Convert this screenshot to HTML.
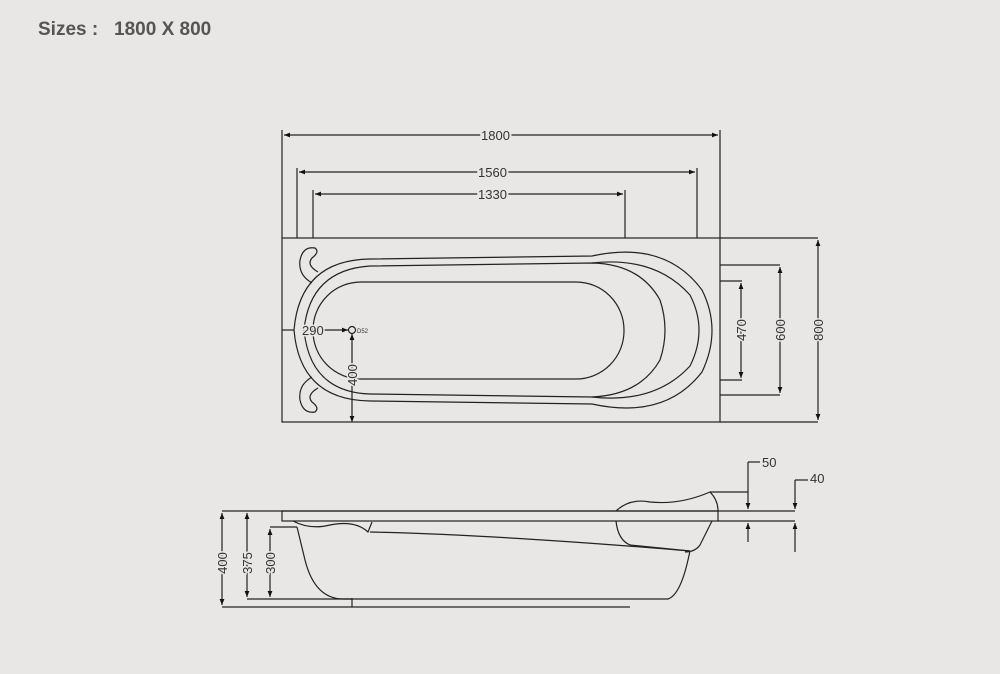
<!DOCTYPE html><html><head><style>html,body{margin:0;padding:0;background:#e8e7e5}</style></head><body>
<svg width="1000" height="669" viewBox="0 0 1000 669" xmlns="http://www.w3.org/2000/svg" font-family="Liberation Sans, sans-serif">
<defs><marker id="a" viewBox="0 0 10 10" refX="10" refY="5" markerWidth="12" markerHeight="6" markerUnits="userSpaceOnUse" orient="auto-start-reverse"><path d="M0,1 L10,5 L0,9z" fill="#111"/></marker></defs>
<rect width="1000" height="669" fill="#e8e7e5"/>
<text x="38" y="35" font-size="19" font-weight="bold" fill="#555" xml:space="preserve">Sizes :   1800 X 800</text>
<g stroke="#222" stroke-width="1.2" fill="none">
<line x1="282" y1="130" x2="282" y2="238"/><line x1="720" y1="130" x2="720" y2="238"/>
<line x1="284" y1="135" x2="718" y2="135" marker-start="url(#a)" marker-end="url(#a)"/>
<line x1="297" y1="168" x2="297" y2="238"/><line x1="697" y1="168" x2="697" y2="238"/>
<line x1="299" y1="172" x2="695" y2="172" marker-start="url(#a)" marker-end="url(#a)"/>
<line x1="313" y1="190" x2="313" y2="238"/><line x1="625" y1="190" x2="625" y2="238"/>
<line x1="315" y1="194" x2="623" y2="194" marker-start="url(#a)" marker-end="url(#a)"/>
<rect x="282" y="238" width="438" height="184"/>
<line x1="720" y1="238" x2="818" y2="238"/><line x1="720" y1="422" x2="818" y2="422"/>
<line x1="720" y1="265" x2="780" y2="265"/><line x1="720" y1="395" x2="780" y2="395"/>
<line x1="720" y1="281" x2="742" y2="281"/><line x1="720" y1="380" x2="742" y2="380"/>
<line x1="818" y1="240" x2="818" y2="420" marker-start="url(#a)" marker-end="url(#a)"/>
<line x1="780" y1="267" x2="780" y2="393" marker-start="url(#a)" marker-end="url(#a)"/>
<line x1="741" y1="283" x2="741" y2="378" marker-start="url(#a)" marker-end="url(#a)"/>
<rect x="313" y="282" width="311" height="97" rx="48"/>
<path d="M370,259 L592,256 Q665,240 702,290 Q722,330 702,372 Q665,420 592,404 L370,401"/>
<path d="M370,266 L592,263 Q640,264 660,300 Q670,330 660,360 Q640,395 592,397 L370,394"/>
<path d="M592,263 Q655,256 690,295 Q708,330 690,366 Q655,404 592,397"/>
<path d="M370,259 Q300,260 294,330 Q300,400 370,401"/>
<path d="M370,266 Q310,270 304,330 Q310,392 370,394"/>
<path d="M312,283 Q298,275 300,260 Q303,246 315,248 Q320,252 312,258 Q306,265 318,272"/>
<path d="M312,377 Q298,385 300,400 Q303,414 315,412 Q320,408 312,402 Q306,395 318,388"/>
<circle cx="352" cy="330" r="3.5"/>
<line x1="322" y1="330" x2="348" y2="330" marker-end="url(#a)"/>
<line x1="352" y1="334" x2="352" y2="422" marker-start="url(#a)" marker-end="url(#a)"/>
<line x1="282" y1="330" x2="294" y2="330"/>
<line x1="222" y1="511" x2="795" y2="511"/>
<rect x="282" y="511" width="436" height="10"/>
<line x1="718" y1="521" x2="795" y2="521"/>
<line x1="222" y1="607" x2="630" y2="607"/>
<line x1="352" y1="598" x2="352" y2="607"/>
<line x1="247" y1="599" x2="352" y2="599"/>
<line x1="270" y1="527" x2="297" y2="527"/>
<line x1="222" y1="513" x2="222" y2="605" marker-start="url(#a)" marker-end="url(#a)"/>
<line x1="247" y1="513" x2="247" y2="597" marker-start="url(#a)" marker-end="url(#a)"/>
<line x1="270" y1="529" x2="270" y2="597" marker-start="url(#a)" marker-end="url(#a)"/>
<path d="M293,521 Q310,530 330,525 Q355,520 368,532 L372,522"/>
<path d="M297,527 L305,560 Q315,600 345,599 L668,599 Q680,595 688,560 L690,551"/>
<path d="M370,532 Q500,535 690,551"/>
<path d="M616,511 Q630,498 650,502 Q680,505 710,492 Q718,500 718,511"/>
<path d="M712,521 L700,545 Q695,552 685,552 M616,521 Q618,540 630,545 L690,551"/>
<line x1="710" y1="492" x2="748" y2="492"/>
<line x1="748" y1="462" x2="748" y2="509" marker-end="url(#a)"/>
<line x1="748" y1="462" x2="760" y2="462"/>
<line x1="748" y1="542" x2="748" y2="523" marker-end="url(#a)"/>
<line x1="795" y1="480" x2="795" y2="509" marker-end="url(#a)"/>
<line x1="795" y1="480" x2="808" y2="480"/>
<line x1="795" y1="552" x2="795" y2="523" marker-end="url(#a)"/>
</g>
<g fill="#333" font-size="13">
<text x="481" y="140" stroke="#e8e7e5" stroke-width="4" paint-order="stroke">1800</text>
<text x="478" y="177" stroke="#e8e7e5" stroke-width="4" paint-order="stroke">1560</text>
<text x="478" y="199" stroke="#e8e7e5" stroke-width="4" paint-order="stroke">1330</text>
<text x="302" y="335" stroke="#e8e7e5" stroke-width="3" paint-order="stroke">290</text>
<text x="357" y="333" font-size="6">D52</text>
<text transform="translate(357,375) rotate(-90)" text-anchor="middle" stroke="#e8e7e5" stroke-width="3" paint-order="stroke">400</text>
<text transform="translate(746,330) rotate(-90)" text-anchor="middle" stroke="#e8e7e5" stroke-width="3" paint-order="stroke">470</text>
<text transform="translate(785,330) rotate(-90)" text-anchor="middle" stroke="#e8e7e5" stroke-width="3" paint-order="stroke">600</text>
<text transform="translate(823,330) rotate(-90)" text-anchor="middle" stroke="#e8e7e5" stroke-width="3" paint-order="stroke">800</text>
<text transform="translate(227,563) rotate(-90)" text-anchor="middle" stroke="#e8e7e5" stroke-width="3" paint-order="stroke">400</text>
<text transform="translate(252,563) rotate(-90)" text-anchor="middle" stroke="#e8e7e5" stroke-width="3" paint-order="stroke">375</text>
<text transform="translate(275,563) rotate(-90)" text-anchor="middle" stroke="#e8e7e5" stroke-width="3" paint-order="stroke">300</text>
<text x="762" y="467">50</text>
<text x="810" y="483">40</text>
</g>
</svg></body></html>
